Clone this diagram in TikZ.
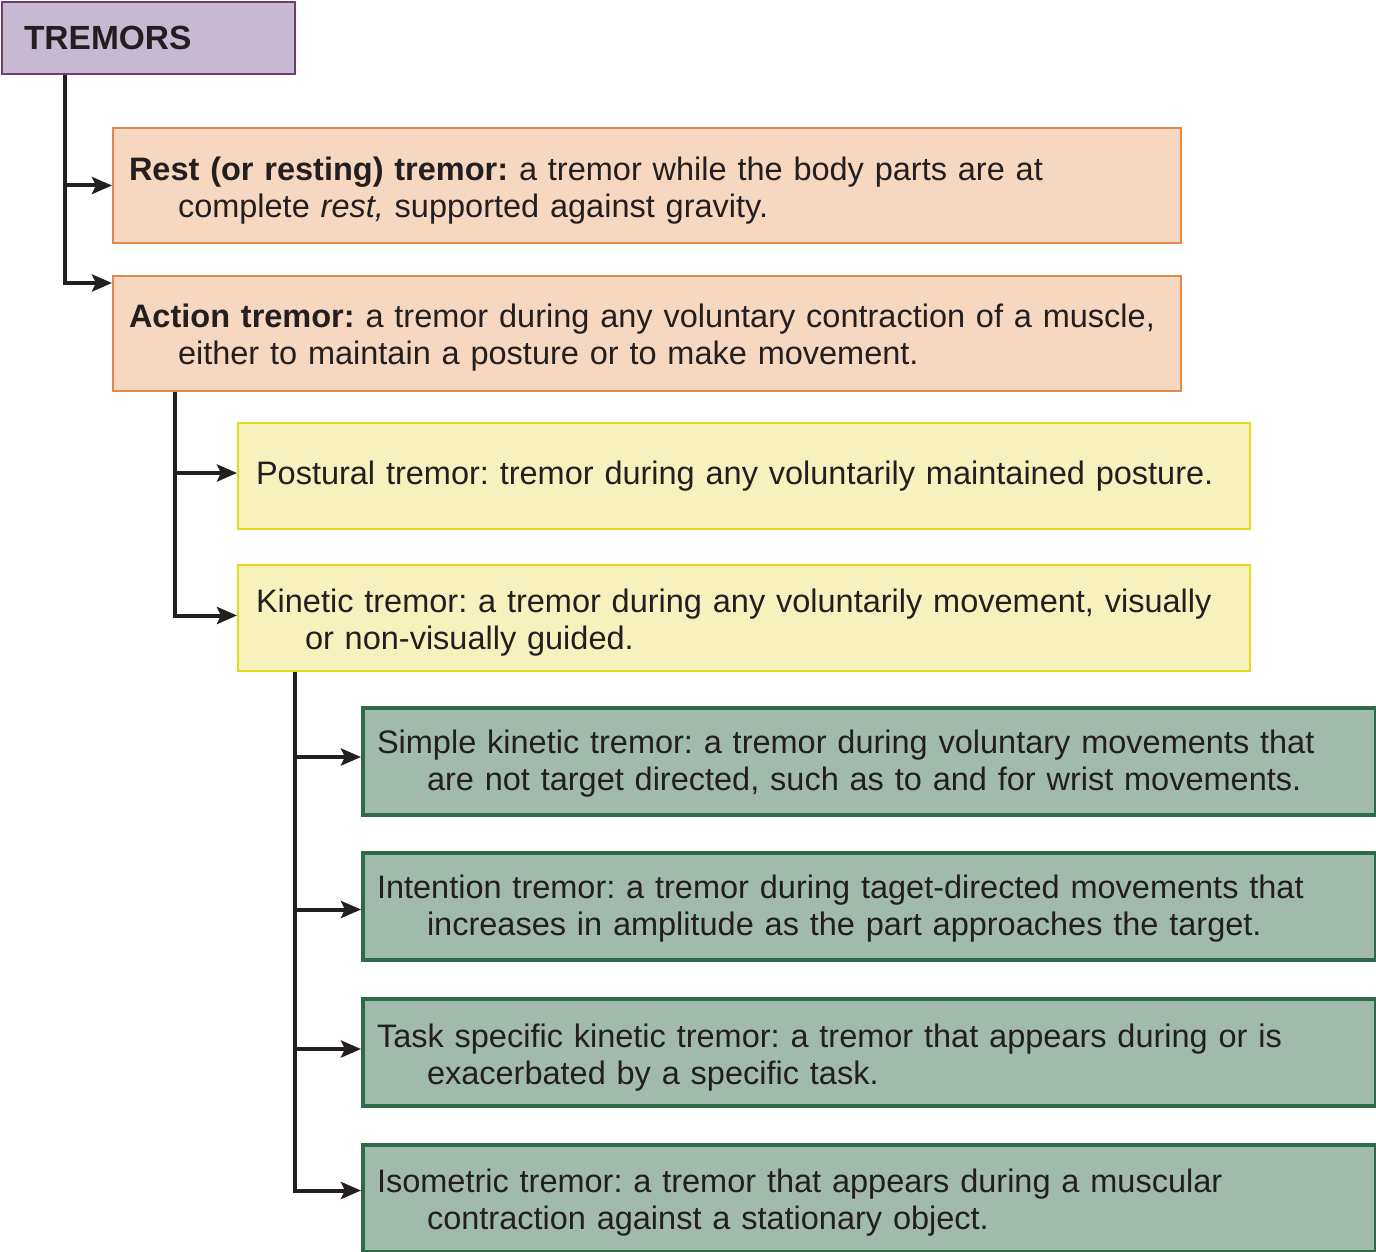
\documentclass[tikz,border=0pt]{standalone}
\usepackage{fontspec}
\setmainfont{Liberation Sans}
\usetikzlibrary{arrows.meta}
\definecolor{txt}{HTML}{231F20}
\definecolor{purpleF}{HTML}{C7B9D1}
\definecolor{purpleD}{HTML}{6C3D77}
\definecolor{orangeF}{HTML}{F5D8BF}
\definecolor{orangeD}{HTML}{E3894B}
\definecolor{yellowF}{HTML}{F7F2BD}
\definecolor{yellowD}{HTML}{E5DA1A}
\definecolor{greenF}{HTML}{A2BAAB}
\definecolor{greenD}{HTML}{2D6A4A}
\frenchspacing
\tikzset{
  basebox/.style={rectangle, anchor=north west, align=left, text=txt, inner ysep=0pt,
    font=\fontsize{32.5}{37}\selectfont},
  purplebox/.style={basebox, fill=purpleF, draw=purpleD, line width=2pt, inner xsep=22pt,
    font=\fontsize{33.5}{38}\selectfont\bfseries},
  orangebox/.style={basebox, fill=orangeF, draw=orangeD, line width=2pt, inner xsep=16pt,
    minimum width=1068pt, minimum height=115pt, text width=1036pt},
  yellowbox/.style={basebox, fill=yellowF, draw=yellowD, line width=2pt, inner xsep=18pt,
    minimum width=1012pt, minimum height=106pt, text width=976pt},
  greenbox/.style={basebox, fill=greenF, draw=greenD, line width=4pt, inner xsep=14pt,
    minimum width=1013pt, minimum height=107pt, text width=985pt},
  conn/.style={draw=txt, line width=4pt, -{Stealth[length=20pt,width=17pt,inset=4pt]}},
}
\newcommand{\hang}[1]{\\\hspace*{#1pt}}
\newcommand{\lift}[1]{\rule{0pt}{#1pt}}
\begin{document}
\begin{tikzpicture}[x=1pt,y=-1pt]
\useasboundingbox (0,0) rectangle (1376,1252);
\node[purplebox, minimum width=293pt, minimum height=72pt, text width=249pt] (tr) at (1,1) {TREMORS};
\node[orangebox] (rest) at (112,127) {\lift{34}\mbox{\textbf{Rest (or resting) tremor:} a tremor while the body parts are at}\hang{49}\mbox{complete \textit{rest,} supported against gravity.}};
\node[orangebox] (act) at (112,275) {\lift{31}\mbox{\textbf{Action tremor:} a tremor during any voluntary contraction of a muscle,}\hang{49}\mbox{either to maintain a posture or to make movement.}};
\node[yellowbox] (post) at (237,422) {\mbox{Postural tremor: tremor during any voluntarily maintained posture.}};
\node[yellowbox] (kin) at (237,564) {\lift{32}\mbox{Kinetic tremor: a tremor during any voluntarily movement, visually}\hang{49}\mbox{or non-visually guided.}};
\node[greenbox] (simp) at (361,706) {\lift{28}\mbox{Simple kinetic tremor: a tremor during voluntary movements that}\hang{50}\mbox{are not target directed, such as to and for wrist movements.}};
\node[greenbox] (inten) at (361,851) {\lift{27}\mbox{Intention tremor: a tremor during taget-directed movements that}\hang{50}\mbox{increases in amplitude as the part approaches the target.}};
\node[greenbox] (task) at (361,997) {\lift{34}\mbox{Task specific kinetic tremor: a tremor that appears during or is}\hang{50}\mbox{exacerbated by a specific task.}};
\node[greenbox] (iso) at (361,1143) {\lift{32}\mbox{Isometric tremor: a tremor that appears during a muscular}\hang{50}\mbox{contraction against a stationary object.}};
% level 1
\coordinate (t1) at ([xshift=64pt]tr.south west);
\coordinate (actin) at ([yshift=-8pt]act.north west);
\draw[conn] (t1) |- (actin);
\draw[conn] (t1 |- rest.west) -- (rest.west);
% level 2
\coordinate (t2) at ([xshift=63pt]act.south west);
\coordinate (kinin) at ([yshift=2.5pt]kin.west);
\draw[conn] (t2) |- (kinin);
\coordinate (postin) at ([yshift=3pt]post.west);
\draw[conn] (t2 |- postin) -- (postin);
% level 3
\coordinate (t3) at ([xshift=58pt]kin.south west);
\coordinate (isoin) at ([yshift=8pt]iso.west);
\draw[conn] (t3) |- (isoin);
\coordinate (simpin) at ([yshift=4.5pt]simp.west);
\draw[conn] (t3 |- simpin) -- (simpin);
\coordinate (intin) at ([yshift=-3pt]inten.west);
\draw[conn] (t3 |- intin) -- (intin);
\coordinate (taskin) at ([yshift=3.5pt]task.west);
\draw[conn] (t3 |- taskin) -- (taskin);
\end{tikzpicture}
\end{document}
